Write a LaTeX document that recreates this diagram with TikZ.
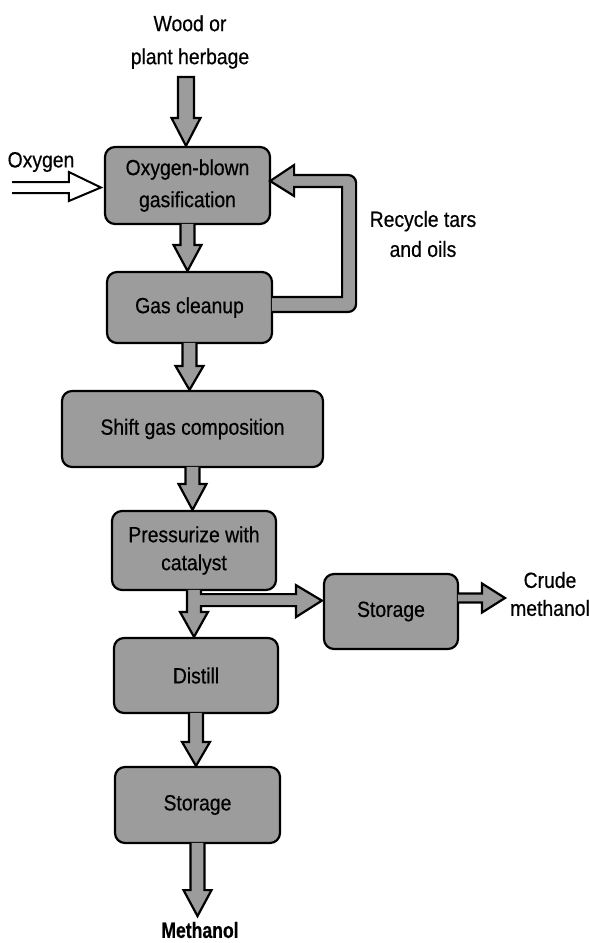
\documentclass[tikz,border=0pt]{standalone}
\usepackage{fontspec}
\setmainfont{Liberation Sans}[FakeStretch=0.88,FakeBold=0.5,BoldFeatures={FakeStretch=0.8,FakeBold=0.5}]
\usetikzlibrary{calc}
\definecolor{boxgray}{gray}{0.61}
\tikzset{
  box/.style={draw=black, line width=2.2pt, fill=boxgray, rounded corners=10pt,
    align=center, inner sep=0pt, font=\fontsize{22}{30}\selectfont},
  lbl/.style={align=center, inner sep=0pt, font=\fontsize{22}{30}\selectfont},
  arr/.style={draw=black, line width=2.2pt, fill=boxgray, line join=miter},
  openarr/.style={draw=black, line width=2pt, line join=miter},
}
% vertical fat arrow: #1 start anchor, #2 anchor giving tip y, #3 head length
\newcommand\vfat[3]{%
  \draw[arr] let \p1=(#1), \p2=(#2) in
    (\x1-7pt,\y1+1.2pt) -- (\x1-7pt,\y2+#3) -- (\x1-14pt,\y2+#3) -- (\x1,\y2)
    -- (\x1+14pt,\y2+#3) -- (\x1+7pt,\y2+#3) -- (\x1+7pt,\y1+1.2pt);}
\begin{document}
\begin{tikzpicture}[x=1pt,y=-1pt]
\useasboundingbox (0,0) rectangle (589,943);

% boxes
\node[box, minimum width=165pt, minimum height=77pt, font=\fontsize{22}{32}\selectfont] (b1) at (187.5,185.5) {Oxygen-blown\\gasification};
\node[box, minimum width=165pt, minimum height=71pt] (b2) at (189.5,307.5) {Gas cleanup};
\node[box, minimum width=261pt, minimum height=76pt] (b3) at (192.5,429) {Shift gas composition};
\node[box, minimum width=164pt, minimum height=79pt, font=\fontsize{22}{28}\selectfont] (b4) at (194,550.5) {Pressurize with\\catalyst};
\node[box, minimum width=164pt, minimum height=75pt] (b5) at (196,675.5) {Distill};
\node[box, minimum width=134pt, minimum height=75pt] (b6) at (391,611.5) {Storage};
\node[box, minimum width=165pt, minimum height=76pt] (b7) at (197.5,805) {Storage};

% labels
\node[lbl, font=\fontsize{22}{33}\selectfont] (wood) at (190,42) {Wood or\\plant herbage};
\node[lbl] (oxy) at (41,162) {Oxygen};
\node[lbl] (recyc) at (423,234) {Recycle tars\\and oils};
\node[lbl, font=\fontsize{22}{28}\selectfont] (crude) at (550,594) {Crude\\methanol};
\node[lbl, font=\fontsize{22}{30}\selectfont\bfseries] (meth) at (200,930) {Methanol};

% free ends
\coordinate (woodarr) at (186,77);
\coordinate (oxystart) at (12,187.5);
\coordinate (outtip) at ($(b7.south)+(0,72)$);
\coordinate (crudetip) at (505,598);

% wood arrow (closed)
\draw[arr] let \p1=(woodarr), \p2=(b1.north) in
  (\x1-8pt,\y1) -- (\x1-8pt,\y2+28pt) -- (\x1-14.5pt,\y2+28pt) -- (\x1,\y2)
  -- (\x1+14.5pt,\y2+28pt) -- (\x1+8pt,\y2+28pt) -- (\x1+8pt,\y1) -- cycle;

% oxygen open double-line arrow
\draw[openarr] let \p1=(oxystart), \p2=(b1.west) in
  (\x1,\y1+5.5pt) -- (\x2-35pt,\y1+5.5pt) -- (\x2-35pt,\y1+15.5pt) -- (\x2-3pt,\y1)
  -- (\x2-35pt,\y1-13.5pt) -- (\x2-35pt,\y1-5.5pt) -- (\x1,\y1-5.5pt);

% main chain
\vfat{b1.south}{b2.north}{26pt}
\vfat{b2.south}{b3.north}{24pt}
\vfat{b3.south}{b4.north}{26pt}
\vfat{b5.south}{b7.north}{24pt}
\vfat{b7.south}{outtip}{26pt}

% b4 -> b5 with branch to b6
\draw[arr] let \p1=(b4.south), \p2=(b5.north), \p3=(b6.west) in
  (\x1-7pt,\y1+1.2pt) -- (\x1-7pt,\y2+25pt) -- (\x1-14pt,\y2+25pt) -- (\x1,\y2)
  -- (\x1+14pt,\y2+25pt) -- (\x1+7pt,\y2+25pt) -- (\x1+7pt,\y1-15pt)
  -- (\x3-27pt,\y1-15pt) -- (\x3-27pt,\y1-26pt) -- (\x3-1pt,\y1-9.5pt)
  -- (\x3-27pt,\y1+6pt) -- (\x3-27pt,\y1-3pt) -- (\x1+7pt,\y1-3pt) -- (\x1+7pt,\y1+1.2pt);

% recycle loop b2 -> b1
\draw[arr] let \p1=(b2.east), \p2=(b1.east) in
  (\x1-1.2pt,\y1-4.5pt) -- (\x1+75pt,\y1-4.5pt) arc[start angle=-90, end angle=0, radius=8pt]
  -- (\x1+83pt,\y2+2.5pt) arc[start angle=0, end angle=90, radius=8pt]
  -- (\x1+21pt,\y2+10.5pt) -- (\x1+21pt,\y2+20.5pt) -- (\x2-1pt,\y2+4.5pt)
  -- (\x1+21pt,\y2-10.5pt) -- (\x1+21pt,\y2-1.5pt) -- (\x1+69pt,\y2-1.5pt)
  -- (\x1+69pt,\y1+10.5pt) -- (\x1-1.2pt,\y1+10.5pt);

% crude methanol arrow
\draw[arr] let \p1=(b6.east), \p2=(crudetip) in
  (\x1-1.2pt,\y2+4.5pt) -- (\x2-23pt,\y2+4.5pt) -- (\x2-23pt,\y2+14.5pt) -- (\x2,\y2)
  -- (\x2-23pt,\y2-14.5pt) -- (\x2-23pt,\y2-4.5pt) -- (\x1-1.2pt,\y2-4.5pt);
\end{tikzpicture}
\end{document}
